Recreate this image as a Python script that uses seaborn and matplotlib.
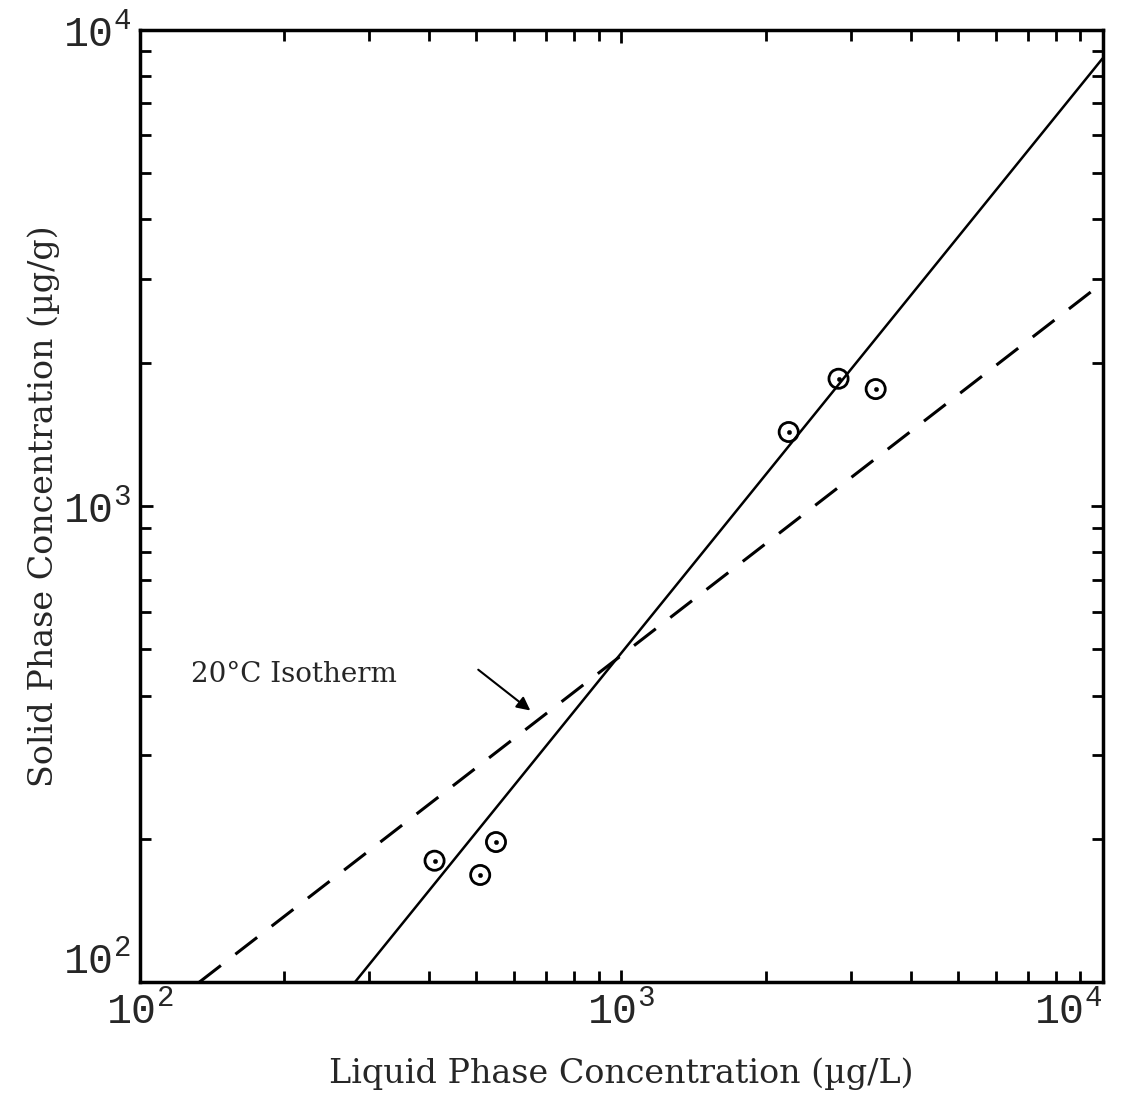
import numpy as np
import pandas as pd
import matplotlib
matplotlib.use("Agg")
import matplotlib.pyplot as plt
import seaborn as sns
from matplotlib.ticker import LogLocator, NullFormatter, FuncFormatter

# ---- data ----
obs_liquid = [410, 510, 550, 2230, 2830, 3380]      # µg/L
obs_solid = [180, 168, 197, 1430, 1850, 1760]       # µg/g

solid_line_x = [280, 10000]
solid_line_y = [100, 8700]
dashed_line_x = [133, 10000]
dashed_line_y = [100, 2940]

annot_text = "20°C Isotherm"
annot_xy_text = (128, 442)
annot_xy_tip = (655, 369)
annot_xy_start = (500, 457)

xlabel = "Liquid Phase Concentration (µg/L)"
ylabel = "Solid Phase Concentration (µg/g)"

# ---- style ----
sns.set_style("ticks")
plt.rcParams['font.family'] = ['DejaVu Serif', 'Liberation Serif']
plt.rcParams['mathtext.fontset'] = 'custom'
plt.rcParams['mathtext.rm'] = 'Liberation Mono'

fig = plt.figure(figsize=(11.25, 11.0), dpi=100)
ax = fig.add_axes([0.124, 0.107, 0.856, 0.866])

pts = pd.DataFrame({"liquid": obs_liquid, "solid": obs_solid})
sol = pd.DataFrame({"x": solid_line_x, "y": solid_line_y})
das = pd.DataFrame({"x": dashed_line_x, "y": dashed_line_y})

sns.lineplot(data=sol, x="x", y="y", ax=ax, color="black", linewidth=1.8)
sns.lineplot(data=das, x="x", y="y", ax=ax, color="black", linewidth=2.2,
             linestyle=(0, (9, 6)))
sns.scatterplot(data=pts, x="liquid", y="solid", ax=ax, marker="o", s=190,
                facecolor="none", edgecolor="black", linewidth=2.0, zorder=5)
sns.scatterplot(data=pts, x="liquid", y="solid", ax=ax, marker="o", s=10,
                color="black", edgecolor="black", zorder=6)

ax.set_xscale("log")
ax.set_yscale("log")
ax.set_xlim(100, 10000)
ax.set_ylim(100, 10000)

ax.xaxis.set_major_locator(LogLocator(base=10, numticks=5))
ax.yaxis.set_major_locator(LogLocator(base=10, numticks=5))
ax.xaxis.set_minor_locator(LogLocator(base=10, subs=np.arange(2, 10), numticks=20))
ax.yaxis.set_minor_locator(LogLocator(base=10, subs=np.arange(2, 10), numticks=20))
ax.xaxis.set_minor_formatter(NullFormatter())
ax.yaxis.set_minor_formatter(NullFormatter())
fmt = FuncFormatter(lambda v, p: r"$\mathrm{10^{%d}}$" % int(round(np.log10(v))))
ax.xaxis.set_major_formatter(fmt)
ax.yaxis.set_major_formatter(fmt)

ax.tick_params(which="both", direction="in", top=True, right=True,
               width=2.0, color="black")
ax.tick_params(which="major", length=9, labelsize=30, pad=6)
ax.tick_params(which="minor", length=8)

for s in ax.spines.values():
    s.set_linewidth(2.5)
    s.set_color("black")

ax.set_xlabel(xlabel, fontsize=24, labelpad=18)
ax.set_ylabel(ylabel, fontsize=24, labelpad=2)

ax.annotate(annot_text, xy=annot_xy_text, fontsize=20, va="center", ha="left")
ax.annotate("", xy=annot_xy_tip, xytext=annot_xy_start,
            arrowprops=dict(arrowstyle="-|>", color="black", lw=1.5,
                            mutation_scale=20))

fig.canvas.draw()
for t in ax.get_xticklabels():
    if t.get_text().endswith("{4}}$"):
        t.set_ha("right")
for t in ax.get_yticklabels():
    if t.get_text().endswith("{2}}$"):
        t.set_va("bottom")

fig.savefig("out.png", dpi=100, facecolor="white")
